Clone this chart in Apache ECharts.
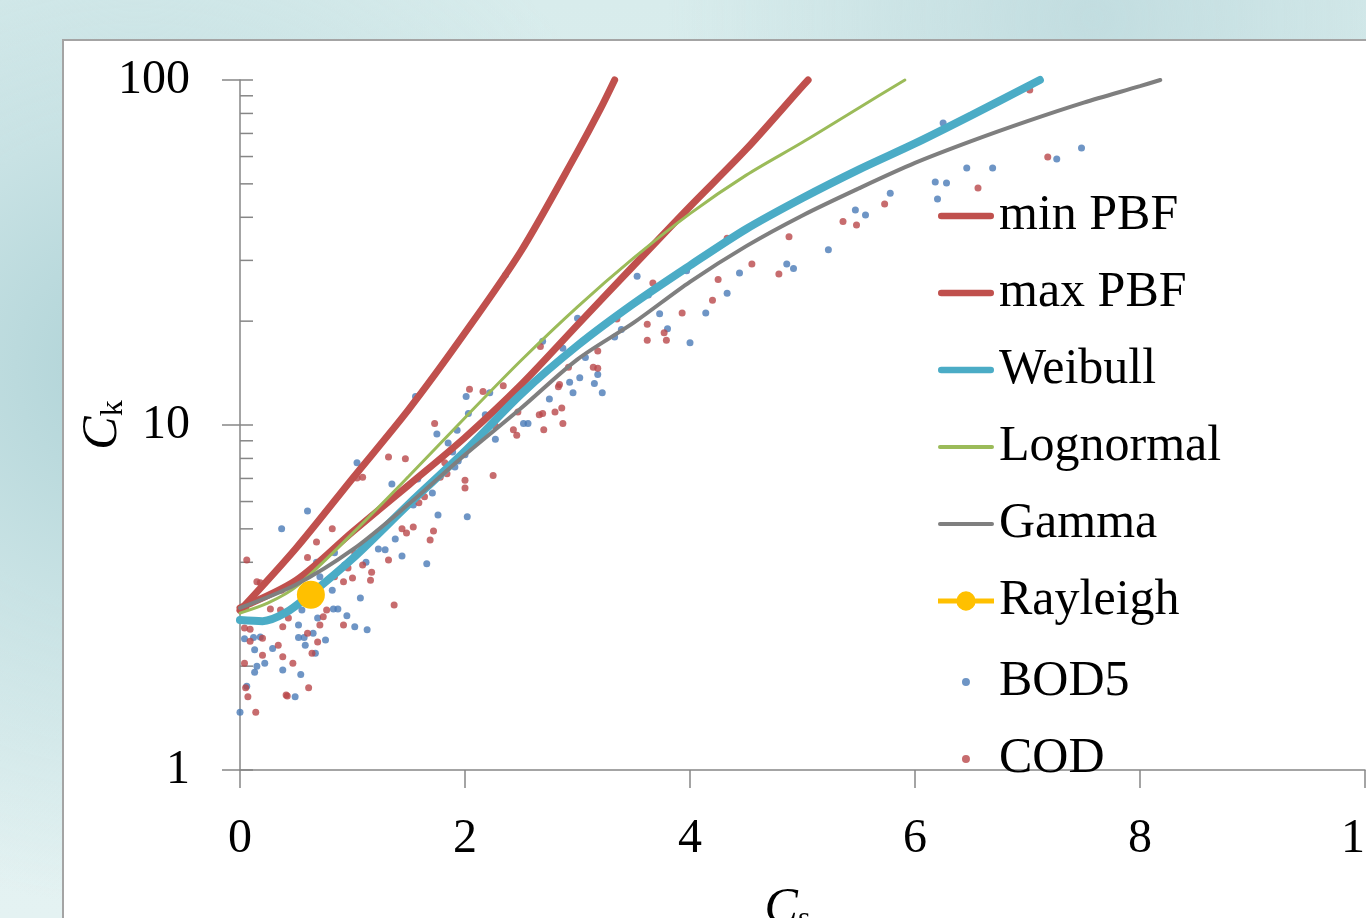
<!DOCTYPE html>
<html>
<head>
    <meta charset="utf-8">
    <title>Ck vs Cs</title>
    <style>
        html, body { margin: 0; padding: 0; width: 1366px; height: 918px; overflow: hidden; }
        body {
            background: radial-gradient(circle at 10% 40%, #aed2d6 0, #c8e2e4 18%, transparent 40%),
                        radial-gradient(circle at 80% 2%, #c2dde0 0, transparent 30%),
                        linear-gradient(180deg, #d8ecec, #e4f2f2);
        }
        #frame {
            position: absolute; left: 62px; top: 39px; width: 1320px; height: 900px;
            background: #fff; border: 2px solid #a4a4a4;
        }
        #chart { position: absolute; left: 0; top: 0; width: 1366px; height: 918px; }
    </style>
</head>
<body>
<div id="frame"></div>
<div id="chart"></div>
<script src="https://cdn.jsdelivr.net/npm/echarts@6/dist/echarts.min.js"></script>
<script type="text/javascript">
    // fitted curves [Cs, Ck]
    var minPbf = [[0, 2.9], [0.5, 4.4], [1, 7.0], [1.5, 11.1], [2, 18.5], [2.5, 32], [3, 62], [3.2, 82], [3.33, 100]];
    var maxPbf = [[0, 2.95], [0.5, 3.55], [1, 4.9], [1.5, 6.7], [2, 9.2], [2.5, 13.1], [3, 19.5], [3.5, 29],
        [4, 43], [4.5, 63], [5, 96], [5.05, 100]];
    var weibull = [[0, 2.72], [0.2, 2.7], [0.4, 2.85], [0.62, 3.22], [1, 4.1], [1.5, 5.9], [2, 8.4], [2.5, 12.3],
        [3, 17], [3.5, 22.5], [4, 29], [4.5, 37], [5, 45.5], [5.5, 55], [6, 65.5], [6.5, 79], [7.11, 100]];
    var lognormal = [[0, 2.85], [0.25, 3.05], [0.5, 3.4], [1, 4.85], [1.5, 7.1], [2, 10.5], [2.5, 15.4], [3, 22],
        [3.5, 30.5], [4, 41], [4.5, 53], [5, 66], [5.5, 83], [5.91, 100]];
    var gamma = [[0, 2.95], [0.5, 3.45], [1, 4.35], [1.5, 5.9], [2, 8.2], [2.5, 11.2], [3, 15.5], [3.5, 19.8],
        [4, 26], [4.5, 33], [5, 40.5], [5.5, 48.5], [6, 57.5], [6.5, 66.5], [7, 76], [7.5, 86], [8, 96], [8.18, 100]];
    var rayleigh = [[0.63, 3.22]];

    // measured points [Cs, Ck]
    var bod5 = [[0.00, 1.47], [0.04, 2.40], [0.12, 2.42], [0.18, 2.43], [0.13, 2.23], [0.13, 1.92], [0.15, 2.0],
        [0.29, 2.25], [0.22, 2.04], [0.38, 1.95], [0.54, 1.89], [0.49, 1.63], [0.06, 1.75], [0.52, 2.42], [0.57, 2.42],
        [0.65, 2.49], [0.76, 2.38], [0.58, 2.30], [0.67, 2.18], [1.02, 2.60], [1.13, 2.55], [0.52, 2.63], [0.55, 2.91],
        [0.69, 2.76], [0.95, 2.80], [1.07, 3.15], [0.83, 2.93], [0.87, 2.93], [0.82, 3.32], [0.71, 3.63], [0.68, 4.0],
        [0.84, 4.26], [0.93, 3.93], [1.12, 4.0], [1.23, 4.37], [1.29, 4.35], [1.38, 4.67], [1.44, 4.17], [1.66, 3.96],
        [1.54, 5.86], [1.76, 5.48], [1.71, 6.35], [1.58, 6.97], [1.35, 6.75], [1.75, 9.42], [1.85, 8.87], [1.04, 7.77],
        [0.60, 5.63], [0.37, 5.0], [1.56, 12.1], [2.01, 12.1], [2.02, 5.42], [1.91, 7.55], [1.94, 7.86], [2.0, 8.2],
        [1.89, 8.35], [1.93, 9.65], [2.27, 9.1], [2.03, 10.8], [2.22, 12.4], [2.18, 10.7], [2.52, 10.1], [2.56, 10.1],
        [2.75, 11.9], [2.69, 17.5], [2.96, 12.4], [2.93, 13.3], [3.02, 13.7], [3.15, 13.2], [3.18, 14.0], [3.22, 12.4],
        [2.87, 16.7], [3.07, 15.7], [3.0, 20.4], [3.33, 18.0], [3.39, 18.9], [3.53, 27.0], [3.63, 23.8], [3.73, 21.0],
        [3.80, 19.0], [4.0, 17.3], [3.97, 28.0], [4.14, 21.1], [4.33, 24.1], [4.44, 27.6], [4.86, 29.3], [4.92, 28.4],
        [5.23, 32.2], [5.56, 40.6], [5.47, 42.0], [5.78, 47.0], [6.2, 45.2], [6.18, 50.6], [6.28, 50.3], [6.46, 55.6],
        [6.69, 55.6], [6.25, 75.0], [7.26, 59.0], [7.48, 63.5], [2.36, 27.2]];
    var cod = [[0.14, 1.47], [0.05, 1.73], [0.07, 1.63], [0.04, 2.04], [0.20, 2.15], [0.38, 2.13], [0.34, 2.30],
        [0.47, 2.04], [0.42, 1.64], [0.61, 1.73], [0.64, 2.18], [0.69, 2.35], [0.92, 2.63], [1.37, 3.01], [0.06, 4.06],
        [0.15, 3.51], [0.18, 3.49], [0.05, 2.95], [0.04, 2.58], [0.09, 2.56], [0.09, 2.36], [0.41, 1.65], [0.37, 3.32],
        [0.27, 2.93], [0.60, 4.13], [0.68, 4.58], [0.82, 5.0], [1.04, 7.02], [1.09, 7.06], [1.32, 8.08], [1.47, 7.98],
        [1.73, 10.1], [2.04, 12.7], [2.16, 12.5], [2.27, 9.93], [2.25, 7.14], [2.0, 6.92], [2.0, 6.57], [1.54, 5.06],
        [1.44, 5.0], [1.48, 4.86], [1.69, 4.64], [1.72, 4.93], [1.59, 5.95], [1.64, 6.19], [1.78, 7.06], [1.82, 7.77],
        [1.84, 7.22], [1.32, 4.06], [1.17, 3.74], [1.09, 3.93], [1.02, 4.26], [0.96, 3.85], [1.0, 3.6], [0.92, 3.51],
        [1.16, 3.55], [0.84, 3.63], [0.77, 2.91], [0.74, 2.78], [0.71, 2.63], [0.60, 2.49], [0.43, 2.76], [0.38, 2.60],
        [0.20, 2.41], [0.36, 2.91], [2.34, 13.0], [2.47, 10.9], [2.43, 9.68], [2.46, 9.34], [2.66, 10.7], [2.69, 10.8],
        [2.70, 9.68], [2.80, 10.9], [2.86, 11.2], [2.87, 10.1], [2.83, 12.9], [2.84, 13.1], [2.92, 14.7], [3.14, 14.7],
        [3.18, 14.6], [3.18, 16.4], [3.35, 20.3], [2.67, 16.9], [3.62, 19.6], [3.62, 17.6], [3.77, 18.5], [3.79, 17.6],
        [3.67, 25.8], [3.93, 21.1], [4.2, 23.0], [4.25, 26.4], [4.55, 29.3], [4.79, 27.4], [4.88, 35.1], [4.33, 34.8],
        [5.36, 38.9], [5.48, 38.0], [5.73, 43.7], [6.56, 48.6], [7.18, 59.8], [7.02, 93.5]];

    var yMinorTicks = [1, 2, 3, 4, 5, 6, 7, 8, 9, 10, 20, 30, 40, 50, 60, 70, 80, 90, 100];
    var lineLegendNames = ['min PBF', 'max PBF', 'Weibull', 'Lognormal', 'Gamma', 'Rayleigh'];
    var dotLegendNames = ['BOD5', 'COD'];

    var serif = 'Liberation Serif';
    var axisGray = '#868686';

    // legend icons drawn like the Excel ones (bar, bar with marker, centred dot)
    var barIcon = 'path://M3,0 H55 A3.5,3.5 0 0 1 55,7 H3 A3.5,3.5 0 0 1 3,0 Z';
    var thinBarIcon = 'path://M2,0 H56 A2,2 0 0 1 56,4 H2 A2,2 0 0 1 2,0 Z';
    var markerIcon = 'path://M0,8 H58 V13 H0 Z M19,10.5 A10,10 0 1 1 39,10.5 A10,10 0 1 1 19,10.5 Z';
    var dotIcon = 'path://M0,4 L0.05,4 Z M24,4 A4,4 0 1 1 32,4 A4,4 0 1 1 24,4 Z M56,4 L56.05,4 Z';
    var lineIcons = [barIcon, barIcon, barIcon, thinBarIcon, thinBarIcon, markerIcon];

    var myChart = echarts.init(document.getElementById('chart'), null, {renderer: 'canvas'});

    function curve(name, data, color, width) {
        return {
            name: name, type: 'line', data: data, smooth: 0.3,
            symbol: 'none', showSymbol: false, clip: false,
            lineStyle: {color: color, width: width, cap: 'round'},
            itemStyle: {color: color}
        };
    }

    var legendText = {fontFamily: serif, fontSize: 50, color: '#000'};

    var option = {
        animation: false,
        backgroundColor: 'transparent',
        grid: {left: 240, top: 80, right: 1, bottom: 148, containLabel: false, outerBoundsMode: 'none'},
        legend: [{
            orient: 'vertical', left: 933, top: 186,
            itemWidth: 56, itemHeight: 21, itemGap: 27,
            textStyle: legendText,
            data: lineLegendNames.map(function (n, i) { return {name: n, icon: lineIcons[i]}; })
        }, {
            orient: 'vertical', left: 933, top: 652,
            itemWidth: 56, itemHeight: 8, itemGap: 27,
            textStyle: legendText,
            data: dotLegendNames.map(function (n) { return {name: n, icon: dotIcon}; })
        }],
        xAxis: {
            type: 'value', min: 0, max: 10, interval: 2,
            name: '{c|C}{s|s}', nameLocation: 'middle', nameGap: 112,
            nameTextStyle: {
                padding: [0, 30, 0, 0],
                rich: {
                    c: {fontFamily: serif, fontStyle: 'italic', fontSize: 50, color: '#000'},
                    s: {fontFamily: serif, fontSize: 32, color: '#000', padding: [22, 0, 0, 0]}
                }
            },
            axisLine: {lineStyle: {color: axisGray, width: 1.5}},
            axisTick: {length: 18, lineStyle: {color: axisGray, width: 1.5}},
            axisLabel: {fontFamily: serif, fontSize: 48, color: '#000', margin: 45},
            splitLine: {show: false}
        },
        yAxis: {
            type: 'log', logBase: 10, min: 1, max: 100,
            name: '{c|C}{k|k}', nameLocation: 'middle', nameGap: 110, nameRotate: 90,
            nameMoveOverlap: false,
            nameTextStyle: {
                rich: {
                    c: {fontFamily: serif, fontStyle: 'italic', fontSize: 50, color: '#000'},
                    k: {fontFamily: serif, fontSize: 32, color: '#000', padding: [22, 0, 0, 0]}
                }
            },
            axisLine: {show: true, lineStyle: {color: axisGray, width: 1.5}},
            axisTick: {length: 18, lineStyle: {color: axisGray, width: 1.5}},
            axisLabel: {fontFamily: serif, fontSize: 48, color: '#000', margin: 50},
            splitLine: {show: false}
        },
        series: [
            curve('min PBF', minPbf, '#c0504d', 7),
            curve('max PBF', maxPbf, '#c0504d', 7),
            curve('Weibull', weibull, '#4bacc6', 8),
            curve('Lognormal', lognormal, '#9bbb59', 3),
            curve('Gamma', gamma, '#7f7f7f', 4),
            {
                name: 'Rayleigh', type: 'line', data: rayleigh,
                symbol: 'circle', symbolSize: 28, showSymbol: true,
                lineStyle: {color: '#ffc000', width: 4},
                itemStyle: {color: '#ffc000'}
            },
            {
                name: 'BOD5', type: 'scatter', data: bod5, symbolSize: 7,
                itemStyle: {color: '#4a7bb7'}
            },
            {
                name: 'COD', type: 'scatter', data: cod, symbolSize: 7,
                itemStyle: {color: '#b9474a'}
            },
            {
                // inside minor ticks of the log axis
                type: 'custom', silent: true, clip: false,
                data: yMinorTicks.map(function (v) { return [0, v]; }),
                renderItem: function (params, api) {
                    var p = api.coord([api.value(0), api.value(1)]);
                    return {
                        type: 'line',
                        shape: {x1: p[0], y1: p[1], x2: p[0] + 13, y2: p[1]},
                        style: {stroke: axisGray, lineWidth: 1.5}
                    };
                }
            }
        ]
    };

    myChart.setOption(option);
</script>
</body>
</html>
